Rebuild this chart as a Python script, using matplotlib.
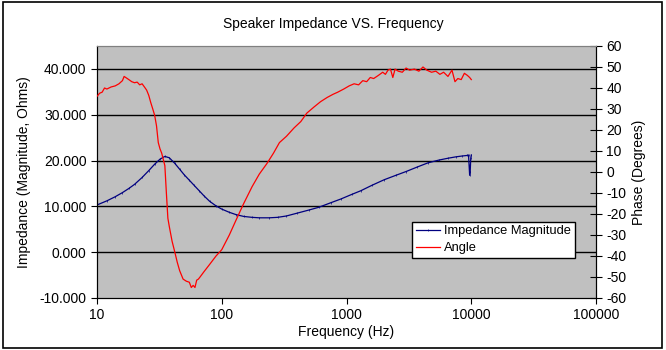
import matplotlib.pyplot as plt
from matplotlib.patches import Rectangle

# impedance magnitude (ohms) vs frequency (Hz)
imp_freq = [10, 12, 14, 16, 18, 20, 23, 26, 29, 32, 35, 38, 42, 46, 50, 55, 60, 66, 72,
            80, 90, 100, 115, 130, 150, 175, 200, 240, 280, 330, 400, 500, 600, 750, 900,
            1100, 1300, 1600, 2000, 2500, 3000, 3700, 4500, 5500, 6500, 7500, 8500, 9200,
            9500, 9600, 9700, 9800, 9900, 10000]
imp_mag = [10.3, 11.2, 12.1, 13.0, 13.9, 14.8, 16.3, 17.8, 19.2, 20.3, 20.9, 20.6, 19.4,
           18.1, 16.9, 15.7, 14.6, 13.4, 12.3, 11.1, 10.1, 9.4, 8.7, 8.2, 7.8, 7.6, 7.5,
           7.5, 7.6, 7.9, 8.5, 9.2, 9.8, 10.8, 11.6, 12.6, 13.4, 14.6, 15.8, 16.8, 17.6,
           18.6, 19.5, 20.1, 20.5, 20.8, 21.0, 21.1, 21.2, 19.0, 16.8, 17.5, 20.5, 21.2]

# phase angle (degrees) vs frequency (Hz)
ang_freq = [10, 10.5, 11, 11.5, 12, 13, 14, 15, 16, 16.5, 17, 18, 19, 20, 21, 22, 23, 24,
            25, 26, 27, 28, 29, 30, 31, 32, 33, 34, 35, 36, 37, 38, 40, 42, 44, 46, 49, 52,
            55, 57, 59, 61, 63, 65, 67, 72, 80, 90, 100, 115, 130, 150, 175, 200, 230, 260,
            290, 330, 380, 430, 480, 550, 620, 700, 780, 850, 950, 1050, 1150, 1250, 1350,
            1450, 1550, 1650, 1800, 1950, 2050, 2150, 2250, 2350, 2450, 2600, 2800, 3000,
            3200, 3500, 3800, 4100, 4400, 4800, 5200, 5600, 6000, 6500, 7000, 7400, 7800,
            8300, 8800, 9300, 9700, 10000]
ang_deg = [36, 37.5, 38, 40, 39.5, 40.5, 41, 42, 43.5, 45.5, 45, 44, 43, 42.5, 42.8, 41.5,
           42, 40.5, 39, 36.5, 33, 30, 27, 22, 14, 11, 9, 6, 3, -10, -22, -26, -33, -38,
           -43, -47, -51, -52, -52.5, -55, -54, -55, -51.5, -51, -50, -47.5, -44, -40, -37,
           -30, -23, -15, -7, -1, 4, 9, 14, 17, 21, 24, 28, 31, 33.5, 35.5, 37, 38, 39.5,
           41, 42, 41.5, 43.5, 43, 45, 44.5, 46, 47.5, 46.5, 48.5, 49, 45, 49, 48, 47.5,
           49.5, 48.5, 49, 48, 50, 48.5, 47.5, 48, 46.5, 47.5, 45.5, 48.5, 43, 44.5, 44,
           47, 46, 45, 44]

plt.rcParams['font.family'] = ['Liberation Sans', 'DejaVu Sans']
plt.rcParams['axes.unicode_minus'] = False

fig = plt.figure(figsize=(6.66, 3.5), dpi=100)
fig.patches.append(Rectangle((0.004, 0.006), 0.99, 0.988, transform=fig.transFigure,
                             fill=False, edgecolor='black', linewidth=1.2))

ax = fig.add_axes([0.1456, 0.1486, 0.7494, 0.72])
ax.set_facecolor('#C0C0C0')
ax.set_xscale('log')
ax.set_xlim(10, 100000)
ax.set_ylim(-10, 45)
ax.set_yticks([-10, 0, 10, 20, 30, 40])
ax.set_yticklabels(['-10.000', '0.000', '10.000', '20.000', '30.000', '40.000'])
ax.minorticks_off()
for v in [0, 10, 20, 30, 40]:
    ax.axhline(v, color='black', linewidth=1, zorder=1)

l1, = ax.plot(imp_freq, imp_mag, color='#000080', linewidth=0.9, marker='|',
              markersize=1.8, markeredgewidth=0.5, zorder=3, label='Impedance Magnitude')

ax2 = ax.twinx()
ax2.set_ylim(-60, 60)
ax2.set_yticks(range(-60, 61, 10))
l2, = ax2.plot(ang_freq, ang_deg, color='#FF0000', linewidth=0.9,
               zorder=3, label='Angle')

for a in (ax, ax2):
    a.spines['top'].set_color('#808080')
    a.spines['left'].set_color('black')
    a.spines['bottom'].set_color('black')
    a.spines['right'].set_color('black')
    a.tick_params(labelsize=10, length=4, width=0.8)
ax2.tick_params(axis='y', direction='inout', length=8)

ax.set_xticks([10, 100, 1000, 10000, 100000])
ax.set_xticklabels(['10', '100', '1000', '10000', '100000'])

ax.set_xlabel('Frequency (Hz)', fontsize=10, labelpad=2)
ax.set_ylabel('Impedance (Magnitude, Ohms)', fontsize=10, labelpad=6)
ax2.set_ylabel('Phase (Degrees)', fontsize=10, labelpad=4)
fig.text(0.5, 0.932, 'Speaker Impedance VS. Frequency', ha='center', va='center',
         fontsize=10)

leg = ax2.legend(handles=[l1, l2], loc='lower left', bbox_to_anchor=(0.631, 0.159),
                 fontsize=9.3, frameon=True, fancybox=False, framealpha=1,
                 edgecolor='black', borderpad=0.3, handlelength=1.9,
                 handletextpad=0.3, labelspacing=0.35, borderaxespad=0)
leg.get_frame().set_linewidth(1)

fig.savefig('out.png', dpi=100, facecolor='white')
